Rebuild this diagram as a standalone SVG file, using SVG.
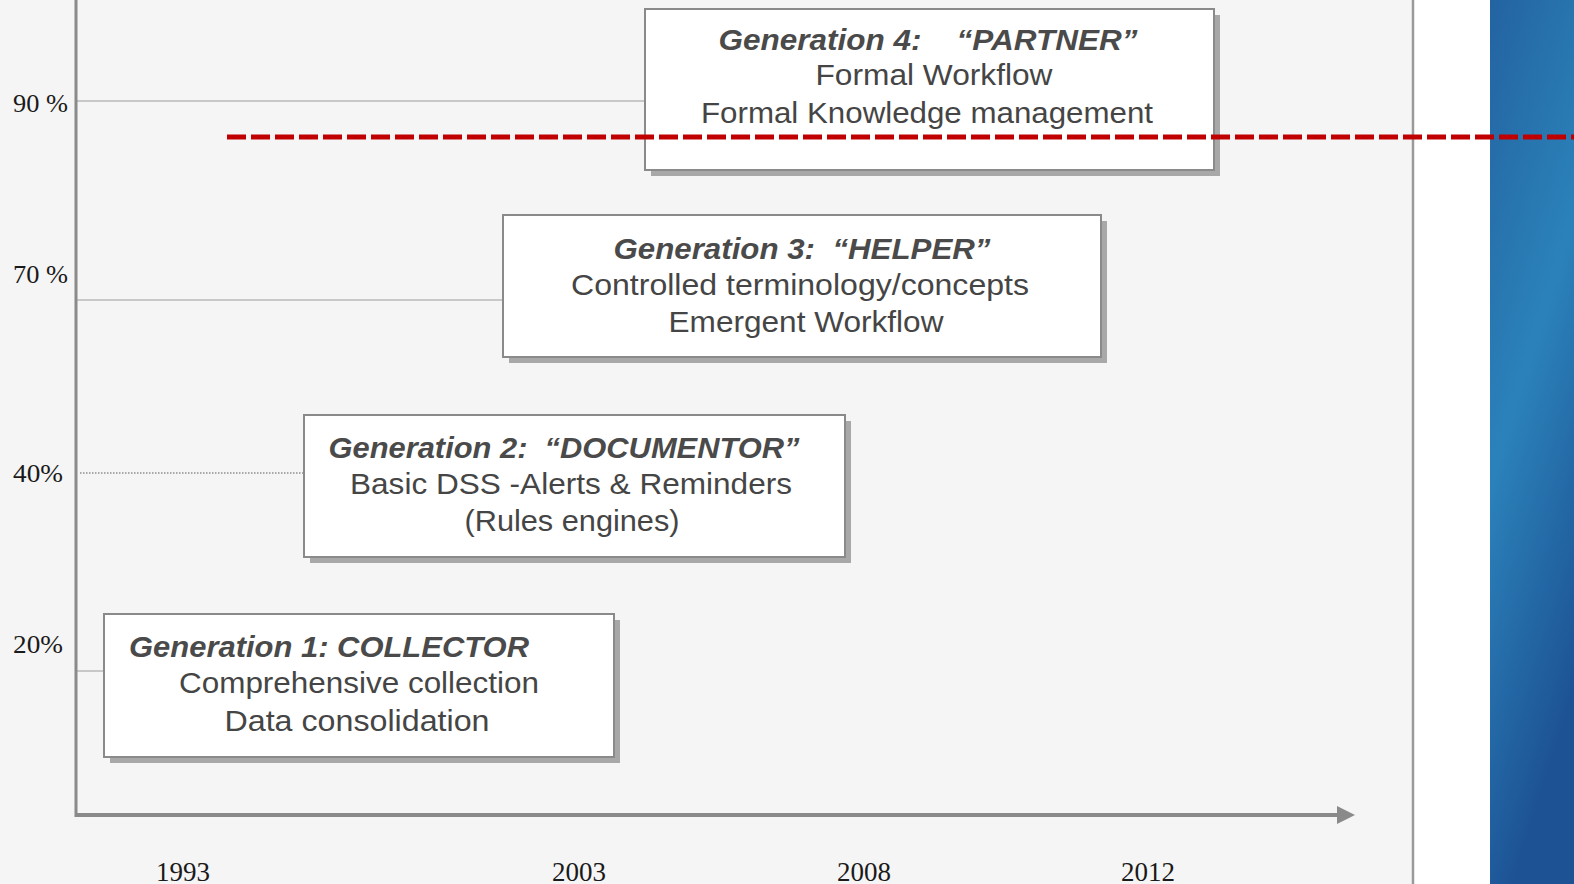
<svg xmlns="http://www.w3.org/2000/svg" width="1574" height="884" viewBox="0 0 1574 884">
<defs>
<linearGradient id="blue" x1="0" y1="0" x2="0.3" y2="1">
<stop offset="0" stop-color="#2363a1"/>
<stop offset="0.5" stop-color="#2b82ba"/>
<stop offset="1" stop-color="#1d5295"/>
</linearGradient>
<style>
.box{fill:#ffffff;stroke:#8a8a8a;stroke-width:2}
.shadow{fill:#a8a8a8}
.title{font-family:"Liberation Sans",Arial,sans-serif;font-size:30px;font-weight:bold;font-style:italic;fill:#4a4a4a}
.body{font-family:"Liberation Sans",Arial,sans-serif;font-size:30px;fill:#454545}
.pct{font-family:"Liberation Serif","Times New Roman",serif;font-size:25px;fill:#1a1a1a}
.yr{font-family:"Liberation Serif","Times New Roman",serif;font-size:27px;fill:#1a1a1a}
.grid{stroke:#c8c8c8;stroke-width:2;fill:none}
.axis{stroke:#8a8a8a;fill:none}
</style>
</defs>
<rect x="0" y="0" width="1574" height="884" fill="#ffffff"/>
<rect x="0" y="0" width="1413" height="884" fill="#f5f5f5"/>
<line x1="1413" y1="0" x2="1413" y2="884" stroke="#9a9a9a" stroke-width="2.5"/>
<rect x="1490" y="0" width="84" height="884" fill="url(#blue)"/>

<g id="connectors">
<line class="grid" x1="77" y1="101" x2="645" y2="101"/>
<line class="grid" x1="77" y1="300" x2="503" y2="300"/>
<line x1="80" y1="473" x2="303" y2="473" stroke="#a8a8a8" stroke-width="2" stroke-dasharray="1.5 1.5"/>
<line class="grid" x1="77" y1="671" x2="104" y2="671"/>
</g>

<g id="axes">
<line class="axis" x1="76" y1="0" x2="76" y2="817" stroke-width="3"/>
<line class="axis" x1="75" y1="815" x2="1340" y2="815" stroke-width="4"/>
<polygon points="1337,806 1355,815 1337,824" fill="#8a8a8a"/>
</g>

<g id="y-labels">
<text class="pct" x="13" y="112" xml:space="preserve" textLength="55" lengthAdjust="spacingAndGlyphs">90 %</text>
<text class="pct" x="13" y="283" xml:space="preserve" textLength="55" lengthAdjust="spacingAndGlyphs">70 %</text>
<text class="pct" x="13" y="482" textLength="50" lengthAdjust="spacingAndGlyphs">40%</text>
<text class="pct" x="13" y="653" textLength="50" lengthAdjust="spacingAndGlyphs">20%</text>
</g>

<g id="x-labels">
<text class="yr" x="156" y="881">1993</text>
<text class="yr" x="552" y="881">2003</text>
<text class="yr" x="837" y="881">2008</text>
<text class="yr" x="1121" y="881">2012</text>
</g>

<g id="gen1">
<rect class="shadow" x="110" y="620" width="510" height="143"/>
<rect class="box" x="104" y="614" width="510" height="143"/>
<text class="title" x="129" y="657" textLength="400" lengthAdjust="spacingAndGlyphs">Generation 1: COLLECTOR</text>
<text class="body" x="359" y="693" text-anchor="middle" textLength="360" lengthAdjust="spacingAndGlyphs">Comprehensive collection</text>
<text class="body" x="357" y="731" text-anchor="middle" textLength="265" lengthAdjust="spacingAndGlyphs">Data consolidation</text>
</g>

<g id="gen2">
<rect class="shadow" x="310" y="421" width="541" height="142"/>
<rect class="box" x="304" y="415" width="541" height="142"/>
<text class="title" x="564" y="458" text-anchor="middle" xml:space="preserve" textLength="471" lengthAdjust="spacingAndGlyphs">Generation 2:  “DOCUMENTOR”</text>
<text class="body" x="571" y="494" text-anchor="middle" textLength="442" lengthAdjust="spacingAndGlyphs">Basic DSS -Alerts &amp; Reminders</text>
<text class="body" x="572" y="531" text-anchor="middle" textLength="215" lengthAdjust="spacingAndGlyphs">(Rules engines)</text>
</g>

<g id="gen3">
<rect class="shadow" x="509" y="221" width="598" height="142"/>
<rect class="box" x="503" y="215" width="598" height="142"/>
<text class="title" x="802" y="259" text-anchor="middle" xml:space="preserve" textLength="377" lengthAdjust="spacingAndGlyphs">Generation 3:  “HELPER”</text>
<text class="body" x="800" y="295" text-anchor="middle" textLength="458" lengthAdjust="spacingAndGlyphs">Controlled terminology/concepts</text>
<text class="body" x="806" y="332" text-anchor="middle" textLength="275" lengthAdjust="spacingAndGlyphs">Emergent Workflow</text>
</g>

<g id="gen4">
<rect class="shadow" x="651" y="15" width="569" height="161"/>
<rect class="box" x="645" y="9" width="569" height="161"/>
<text class="title" x="928" y="50" text-anchor="middle" xml:space="preserve" textLength="419" lengthAdjust="spacingAndGlyphs">Generation 4:    “PARTNER”</text>
<text class="body" x="934" y="85" text-anchor="middle" textLength="237" lengthAdjust="spacingAndGlyphs">Formal Workflow</text>
<text class="body" x="927" y="123" text-anchor="middle" textLength="452" lengthAdjust="spacingAndGlyphs">Formal Knowledge management</text>
</g>

<g id="threshold">
<line x1="227" y1="137" x2="1574" y2="137" stroke="#c00000" stroke-width="5" stroke-dasharray="19 5"/>
</g>
</svg>
